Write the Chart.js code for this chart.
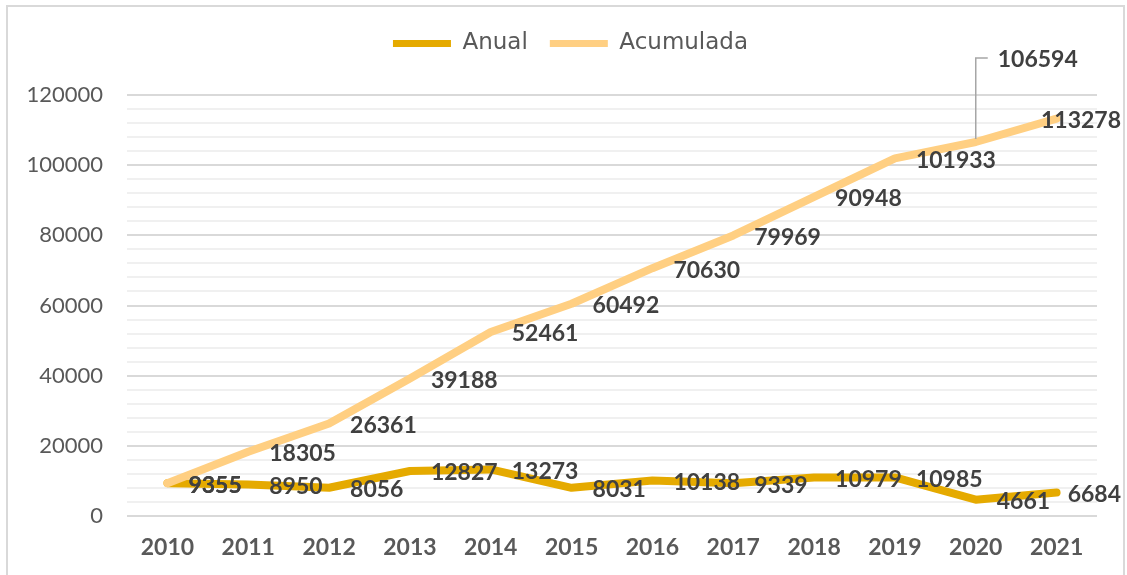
<!DOCTYPE html>
<html>
<head>
<meta charset="utf-8">
<script src="https://cdn.jsdelivr.net/npm/chart.js@4/dist/chart.umd.min.js"></script>
<style>
  html, body { margin: 0; padding: 0; background: #ffffff; overflow: hidden; }
  #frame {
    position: absolute; left: 6px; top: 5px;
    width: 1115px; height: 580px;
    border: 2px solid #d9d9d9; background: #ffffff;
  }
  #chart { display: block; }
</style>
</head>
<body>
<div id="frame"><canvas id="chart" width="1115" height="575"></canvas></div>
<script>
// Years on the horizontal axis
const years = ['2010', '2011', '2012', '2013', '2014', '2015', '2016', '2017', '2018', '2019', '2020', '2021'];
// Yearly count
const anual = [9355, 8950, 8056, 12827, 13273, 8031, 10138, 9339, 10979, 10985, 4661, 6684];
// Running total
const acumulada = [9355, 18305, 26361, 39188, 52461, 60492, 70630, 79969, 90948, 101933, 106594, 113278];
// Labelled values on the vertical axis
const yTickLabels = [0, 20000, 40000, 60000, 80000, 100000, 120000];

const GOLD = '#E5AA00';
const PEACH = '#FFCF82';
const TEXT = '#595959';
const LABEL = '#404040';

// Value labels drawn to the right of each point; one label is lifted above with a leader line.
const valueLabels = {
  id: 'valueLabels',
  afterDatasetsDraw(chart, args, opts) {
    const ctx = chart.ctx;
    ctx.save();
    ctx.font = 'bold 23px Lato';
    ctx.fillStyle = LABEL;
    ctx.textBaseline = 'middle';
    ctx.textAlign = 'left';
    chart.data.datasets.forEach((ds, di) => {
      const meta = chart.getDatasetMeta(di);
      meta.data.forEach((pt, i) => {
        const text = String(ds.data[i]);
        const w = ctx.measureText(text).width;
        const moved = (opts.moved || []).find(m => m.dataset === di && m.index === i);
        if (moved) {
          const lx = pt.x + moved.dx;
          const ly = pt.y + moved.dy;
          ctx.save();
          ctx.strokeStyle = '#a6a6a6';
          ctx.lineWidth = 1.5;
          ctx.beginPath();
          ctx.moveTo(pt.x, pt.y - 3);
          ctx.lineTo(pt.x, ly - 2);
          ctx.lineTo(pt.x + 12, ly - 2);
          ctx.stroke();
          ctx.restore();
          ctx.fillText(text, lx, ly);
          return;
        }
        let x = pt.x + 21;
        const y = pt.y + 2;
        if (x + w > chart.width - 2) x = chart.width - 2 - w;
        ctx.fillText(text, x, y);
      });
    });
    ctx.restore();
  }
};

// Extra room under the legend, and the legend row nudged into place
const legendSpace = {
  id: 'legendSpace',
  beforeInit(chart) {
    const fit = chart.legend.fit;
    chart.legend.fit = function () {
      fit.call(this);
      this.height += 33;
    };
  },
  afterLayout(chart) {
    const lg = chart.legend;
    lg.left += 18; lg.right += 18;
    lg.top += 3; lg.bottom += 3;
  }
};

new Chart(document.getElementById('chart'), {
  type: 'line',
  data: {
    labels: years,
    datasets: [
      {
        label: 'Anual',
        data: anual,
        order: 1,
        borderColor: GOLD,
        backgroundColor: GOLD,
        borderWidth: 8,
        pointRadius: 0,
        borderJoinStyle: 'round',
        borderCapStyle: 'round',
        tension: 0
      },
      {
        label: 'Acumulada',
        data: acumulada,
        order: 0,
        borderColor: PEACH,
        backgroundColor: PEACH,
        borderWidth: 8,
        pointRadius: 0,
        borderJoinStyle: 'round',
        borderCapStyle: 'round',
        tension: 0
      }
    ]
  },
  options: {
    responsive: false,
    animation: false,
    layout: { padding: { top: 0, right: 26, bottom: 0, left: 0 } },
    plugins: {
      tooltip: { enabled: false },
      legend: {
        position: 'top',
        labels: {
          font: { family: 'DejaVu Sans', size: 23 },
          color: TEXT,
          boxWidth: 58,
          boxHeight: 7,
          padding: 22,
          useBorderRadius: true,
          borderRadius: 3.5,
          generateLabels(chart) {
            return chart.data.datasets.map((ds, i) => ({
              text: ds.label,
              fillStyle: ds.borderColor,
              strokeStyle: ds.borderColor,
              lineWidth: 0,
              fontColor: TEXT,
              hidden: false,
              datasetIndex: i
            }));
          }
        }
      },
      valueLabels: {
        moved: [{ dataset: 1, index: 10, dx: 22, dy: -82 }]
      }
    },
    scales: {
      x: {
        offset: true,
        grid: { display: false, drawTicks: false },
        border: { display: false },
        ticks: {
          color: TEXT,
          font: { family: 'Lato', size: 23, weight: 'bold' },
          padding: 18,
          maxRotation: 0,
          autoSkip: false
        },
        afterFit(scale) { scale.height = 66; }
      },
      y: {
        min: 0,
        max: 120000,
        border: { display: false },
        grid: {
          drawTicks: false,
          lineWidth: 2,
          color: (c) => (yTickLabels.includes(c.tick.value) ? '#d9d9d9' : '#f0f0f0')
        },
        ticks: {
          stepSize: 4000,
          autoSkip: false,
          color: TEXT,
          font: { family: 'Lato', size: 22 },
          padding: 24,
          callback: (v) => (yTickLabels.includes(v) ? String(v) : '')
        },
        afterFit(scale) { scale.width = 119; }
      }
    }
  },
  plugins: [valueLabels, legendSpace]
});
</script>
</body>
</html>
